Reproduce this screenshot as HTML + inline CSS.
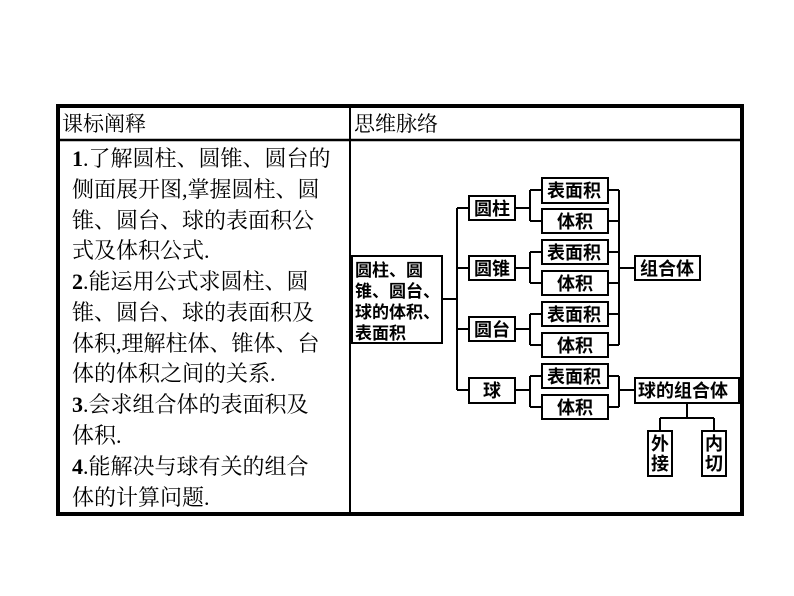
<!DOCTYPE html>
<html><head><meta charset="utf-8"><style>
html,body{margin:0;padding:0;background:#fff;}
svg{display:block;}
text{font-family:"Liberation Serif","Noto Serif CJK SC","Noto Sans CJK SC",serif;fill:#000;}
.b text{font-family:"Liberation Sans","Noto Sans CJK SC",sans-serif;font-weight:bold;}
</style></head><body>
<svg width="794" height="596" viewBox="0 0 794 596" xmlns="http://www.w3.org/2000/svg">
<rect x="58" y="106" width="684" height="408" fill="none" stroke="#000" stroke-width="4"/>
<line x1="58" y1="140" x2="742" y2="140" stroke="#000" stroke-width="2.5"/>
<line x1="350" y1="106" x2="350" y2="514" stroke="#000" stroke-width="2"/>
<text x="62" y="131" font-size="21">课标阐释</text>
<text x="354" y="131" font-size="21">思维脉络</text>
<g font-size="22">
<text x="72" y="166"><tspan font-weight="bold">1</tspan>.了解圆柱、圆锥、圆台的</text>
<text x="72" y="197">侧面展开图,掌握圆柱、圆</text>
<text x="72" y="228">锥、圆台、球的表面积公</text>
<text x="72" y="258">式及体积公式.</text>
<text x="72" y="289"><tspan font-weight="bold">2</tspan>.能运用公式求圆柱、圆</text>
<text x="72" y="320">锥、圆台、球的表面积及</text>
<text x="72" y="351">体积,理解柱体、锥体、台</text>
<text x="72" y="381">体的体积之间的关系.</text>
<text x="72" y="412"><tspan font-weight="bold">3</tspan>.会求组合体的表面积及</text>
<text x="72" y="443">体积.</text>
<text x="72" y="474"><tspan font-weight="bold">4</tspan>.能解决与球有关的组合</text>
<text x="72" y="505">体的计算问题.</text>
</g>
<g stroke="#000" stroke-width="2" fill="none">
<rect x="352" y="256" width="90" height="87"/>
<line x1="442" y1="299" x2="457" y2="299"/>
<line x1="457" y1="208" x2="457" y2="390"/>
<line x1="457" y1="208" x2="469" y2="208"/>
<line x1="457" y1="268" x2="469" y2="268"/>
<line x1="457" y1="329" x2="469" y2="329"/>
<line x1="457" y1="390" x2="469" y2="390"/>
<rect x="469" y="196" width="46" height="24"/>
<rect x="469" y="256" width="46" height="24"/>
<rect x="469" y="317" width="46" height="24"/>
<rect x="469" y="378" width="46" height="25"/>
<line x1="515" y1="208" x2="530" y2="208"/><line x1="530" y1="190" x2="530" y2="221"/>
<line x1="515" y1="268" x2="530" y2="268"/><line x1="530" y1="252" x2="530" y2="283"/>
<line x1="515" y1="329" x2="530" y2="329"/><line x1="530" y1="314" x2="530" y2="345"/>
<line x1="515" y1="390" x2="530" y2="390"/><line x1="530" y1="376" x2="530" y2="407"/>
<line x1="530" y1="190" x2="542" y2="190"/><line x1="530" y1="221" x2="542" y2="221"/>
<line x1="530" y1="252" x2="542" y2="252"/><line x1="530" y1="283" x2="542" y2="283"/>
<line x1="530" y1="314" x2="542" y2="314"/><line x1="530" y1="345" x2="542" y2="345"/>
<line x1="530" y1="376" x2="542" y2="376"/><line x1="530" y1="407" x2="542" y2="407"/>
<rect x="542" y="178" width="66" height="25"/><rect x="542" y="209" width="66" height="24"/>
<rect x="542" y="240" width="66" height="24"/><rect x="542" y="271" width="66" height="24"/>
<rect x="542" y="302" width="66" height="24"/><rect x="542" y="333" width="66" height="24"/>
<rect x="542" y="364" width="66" height="24"/><rect x="542" y="395" width="66" height="24"/>
<line x1="608" y1="190" x2="619" y2="190"/><line x1="608" y1="221" x2="619" y2="221"/>
<line x1="608" y1="252" x2="619" y2="252"/><line x1="608" y1="283" x2="619" y2="283"/>
<line x1="608" y1="314" x2="619" y2="314"/><line x1="608" y1="345" x2="619" y2="345"/>
<line x1="619" y1="190" x2="619" y2="345"/>
<line x1="619" y1="268" x2="635" y2="268"/>
<rect x="635" y="256" width="65" height="24"/>
<line x1="608" y1="376" x2="619" y2="376"/><line x1="608" y1="407" x2="619" y2="407"/>
<line x1="619" y1="376" x2="619" y2="407"/>
<line x1="619" y1="390" x2="635" y2="390"/>
<rect x="635" y="378" width="104" height="25"/>
<line x1="687" y1="403" x2="687" y2="418"/>
<line x1="660" y1="418" x2="714" y2="418"/>
<line x1="660" y1="418" x2="660" y2="431"/><line x1="714" y1="418" x2="714" y2="431"/>
<rect x="648" y="431" width="24" height="45"/>
<rect x="702" y="431" width="24" height="45"/>
</g>
<g class="b" font-size="18">
<g font-size="17">
<text x="355" y="276">圆柱、圆</text>
<text x="355" y="297">锥、圆台、</text>
<text x="355" y="318">球的体积、</text>
<text x="355" y="339">表面积</text>
</g>
<text x="474" y="215">圆柱</text>
<text x="474" y="275">圆锥</text>
<text x="474" y="336">圆台</text>
<text x="483" y="397">球</text>
<text x="547" y="197">表面积</text><text x="557" y="228">体积</text>
<text x="547" y="259">表面积</text><text x="557" y="290">体积</text>
<text x="547" y="321">表面积</text><text x="557" y="352">体积</text>
<text x="547" y="383">表面积</text><text x="557" y="414">体积</text>
<text x="640" y="275">组合体</text>
<text x="638" y="397">球的组合体</text>
<text x="651" y="450">外</text><text x="651" y="470">接</text>
<text x="705" y="450">内</text><text x="705" y="470">切</text>
</g>
</svg>
</body></html>
